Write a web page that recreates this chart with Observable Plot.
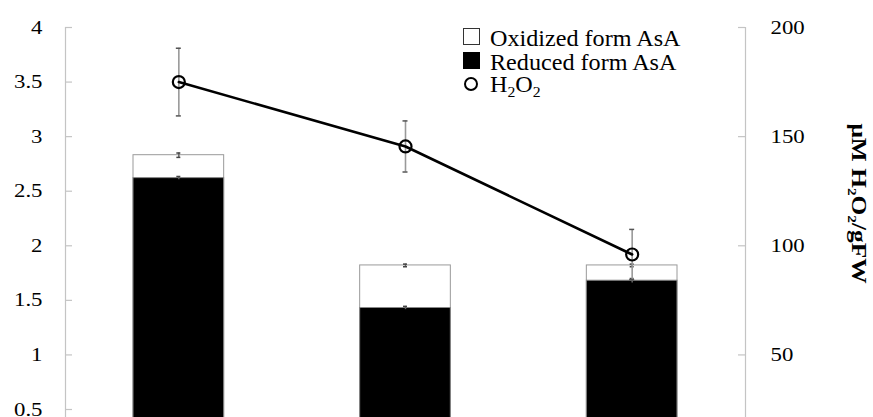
<!DOCTYPE html>
<html>
<head>
<meta charset="utf-8">
<script src="https://cdn.jsdelivr.net/npm/d3@7"></script>
<script src="https://cdn.jsdelivr.net/npm/@observablehq/plot@0.6"></script>
<style>
  html, body { margin: 0; padding: 0; background: white; overflow: hidden; }
  #wrap { position: relative; width: 873px; height: 417px; }
  .legend { position: absolute; left: 0; top: 0; font-family: "Liberation Serif", serif; font-size: 23px; color: black; line-height: 1; }
  .row { position: absolute; white-space: nowrap; }
  .lbl { display: inline-block; transform: scaleX(1.05); transform-origin: left center; }
  .box { position: absolute; width: 17px; height: 17px; box-sizing: border-box; border: 1.5px solid #333; background: white; }
  .box.black { background: black; border-color: black; }
  .circ { position: absolute; width: 14px; height: 14px; box-sizing: border-box; border: 2.4px solid black; border-radius: 50%; }
  sub { font-size: 15px; vertical-align: -5px; line-height: 0; }
</style>
</head>
<body>
<div id="wrap"></div>
<script>
// ---- data ----
const groups = [0, 1, 2];                       // three treatments (labels not visible)
const reducedAsA = [2.62, 1.43, 1.68];          // left axis
const oxidizedAsA = [0.21, 0.39, 0.14];         // stacked on top of reduced
const reducedErr = [0.015, 0.015, 0.02];
const totalErr = [0.02, 0.012, 0.012];
const h2o2 = [175, 145.5, 96];                  // µM H2O2/gFW, right axis
const h2o2Err = [15.5, 11.7, 11.5];
const leftTicks = [0.5, 1, 1.5, 2, 2.5, 3, 3.5, 4];
const rightTicks = [50, 100, 150, 200];
const rightLabel = "μM H₂O₂/gFW";
const legendLabels = ["Oxidized form AsA", "Reduced form AsA"];

const ratio = 50; // right axis units per left axis unit

const rows = groups.map((g, i) => ({
  g,
  reduced: reducedAsA[i],
  total: reducedAsA[i] + oxidizedAsA[i],
  rErr: reducedErr[i],
  tErr: totalErr[i],
  h: h2o2[i] / ratio,
  hLo: (h2o2[i] - h2o2Err[i]) / ratio,
  hHi: (h2o2[i] + h2o2Err[i]) / ratio
}));

const barHalf = 0.2;
const axisGray = "#c4c4c4";

const chart = Plot.plot({
  width: 873,
  height: 417,
  marginLeft: 65,
  marginRight: 128,
  marginTop: 27,
  marginBottom: 0,
  x: { type: "linear", domain: [-0.5, 2.5], axis: null },
  y: { domain: [0.4267, 4], axis: null },
  style: { fontFamily: "Liberation Serif, serif", fontSize: "19px", color: "black", background: "white" },
  marks: [
    // stacked bars
    Plot.rect(rows, { x1: d => d.g - barHalf, x2: d => d.g + barHalf, y1: 0, y2: "total", fill: "white", stroke: "#9a9a9a", strokeWidth: 1, clip: true }),
    Plot.rect(rows, { x1: d => d.g - barHalf, x2: d => d.g + barHalf, y1: 0, y2: "reduced", fill: "black", stroke: "#888", strokeWidth: 1, clip: true }),
    // bar error bars
    Plot.ruleX(rows, { x: "g", y1: d => d.total - d.tErr, y2: d => d.total + d.tErr, stroke: "#666", strokeWidth: 1.5 }),
    Plot.ruleY(rows, { y: d => d.total - d.tErr, x1: "g", x2: "g", insetLeft: -2, insetRight: -2, stroke: "#444", strokeWidth: 1.5 }),
    Plot.ruleY(rows, { y: d => d.total + d.tErr, x1: "g", x2: "g", insetLeft: -2, insetRight: -2, stroke: "#444", strokeWidth: 1.5 }),
    Plot.ruleX(rows, { x: "g", y1: d => d.reduced - d.rErr, y2: d => d.reduced + d.rErr, stroke: "#666", strokeWidth: 1.5 }),
    Plot.ruleY(rows, { y: d => d.reduced + d.rErr, x1: "g", x2: "g", insetLeft: -2, insetRight: -2, stroke: "#444", strokeWidth: 1.5 }),
    // axis lines and inward ticks
    Plot.ruleX([-0.5, 2.5], { x: d => d, stroke: axisGray, strokeWidth: 1.2 }),
    Plot.ruleY(leftTicks, { y: d => d, insetRight: 673, stroke: axisGray, strokeWidth: 1.2 }),
    Plot.ruleY(rightTicks, { y: d => d / ratio, insetLeft: 673, stroke: axisGray, strokeWidth: 1.2 }),
    Plot.axisY(leftTicks, { anchor: "left", tickSize: 0, tickPadding: 23, tickFormat: d => String(d), label: null, fontSize: 19 }),
    Plot.axisY(rightTicks.map(d => d / ratio), { anchor: "right", tickSize: 0, tickPadding: 25, tickFormat: d => String(Math.round(d * ratio)), label: null, fontSize: 19 }),
    // H2O2 error bars, line and points
    Plot.ruleX(rows, { x: "g", y1: "hLo", y2: "hHi", stroke: "#999", strokeWidth: 1.6 }),
    Plot.ruleY(rows, { y: "hLo", x1: "g", x2: "g", insetLeft: -2.5, insetRight: -2.5, stroke: "#555", strokeWidth: 1.5 }),
    Plot.ruleY(rows, { y: "hHi", x1: "g", x2: "g", insetLeft: -2.5, insetRight: -2.5, stroke: "#555", strokeWidth: 1.5 }),
    Plot.line(rows, { x: "g", y: "h", stroke: "black", strokeWidth: 2.6 }),
    Plot.dot(rows, { x: "g", y: "h", r: 6, stroke: "black", strokeWidth: 2.2, fill: "none" }),
    // right axis title
    Plot.text([rightLabel], { text: d => d, frameAnchor: "right", textAnchor: "middle", dx: 113, dy: -19, rotate: 90, fontWeight: "bold", fontSize: 20 })
  ]
});

// widen text horizontally to match the reference's stretched glyphs
chart.querySelectorAll("text").forEach(t => {
  const tr = t.getAttribute("transform") || "";
  if (tr.includes("rotate")) t.setAttribute("transform", tr + " scale(1.27,1)");
  else t.setAttribute("transform", tr + " scale(1.2,1)");
});

const wrap = document.getElementById("wrap");
wrap.appendChild(chart);

// legend
const legend = document.createElement("div");
legend.className = "legend";
legend.innerHTML = `
  <div class="box" style="left:463px;top:28px"></div>
  <div class="row" style="left:490px;top:27px"><span class="lbl">${legendLabels[0]}</span></div>
  <div class="box black" style="left:463px;top:52px"></div>
  <div class="row" style="left:490px;top:51px"><span class="lbl">${legendLabels[1]}</span></div>
  <div class="circ" style="left:464px;top:77px"></div>
  <div class="row" style="left:490px;top:73px"><span class="lbl">H<sub>2</sub>O<sub>2</sub></span></div>
`;
wrap.appendChild(legend);
</script>
</body>
</html>
